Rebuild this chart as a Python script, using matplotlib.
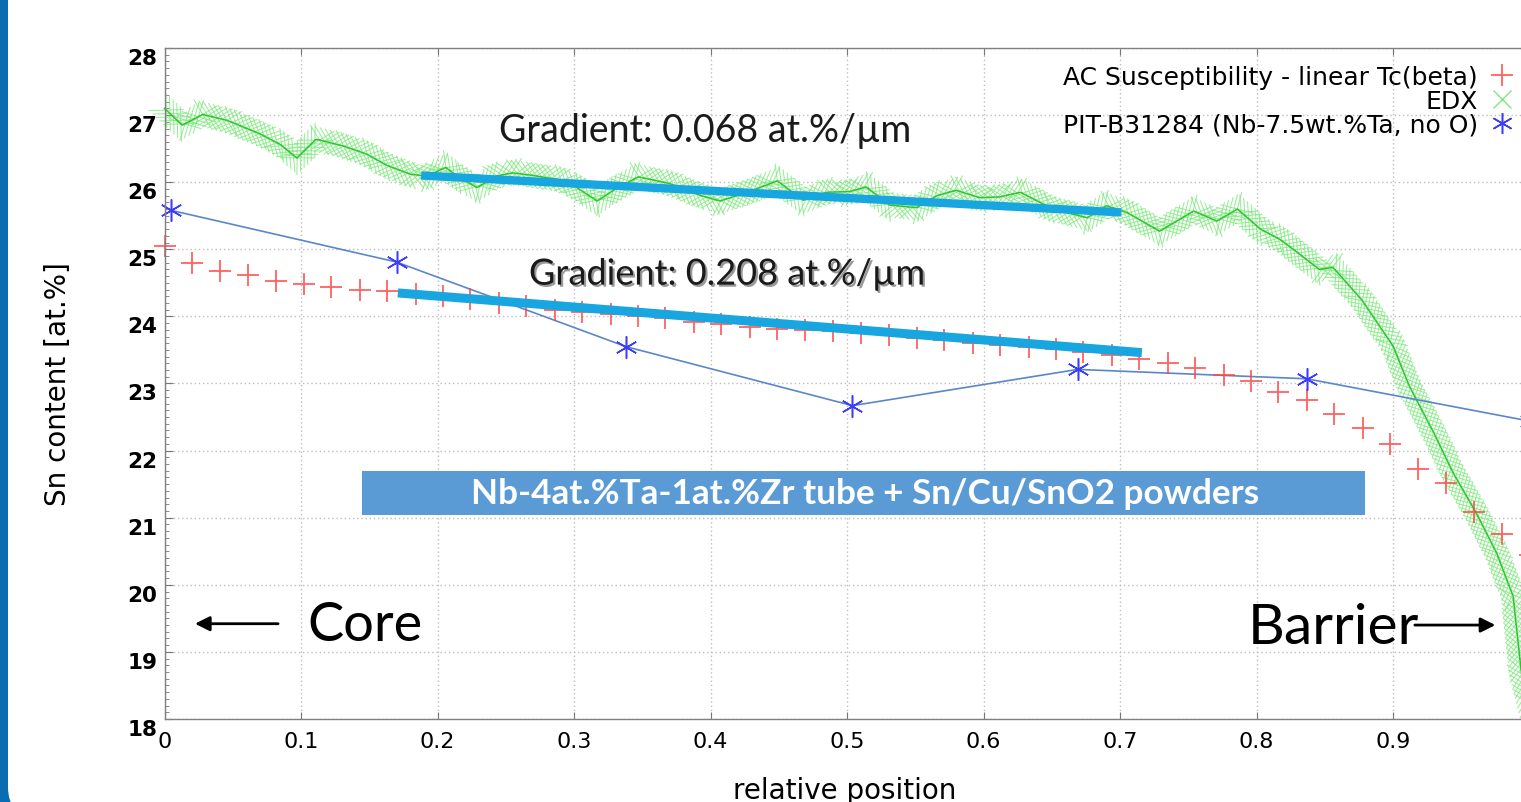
import matplotlib
matplotlib.use('Agg')
import matplotlib.pyplot as plt
import matplotlib.patheffects as pe
from matplotlib.lines import Line2D
from matplotlib.patches import Rectangle, FancyBboxPatch
from matplotlib.transforms import IdentityTransform

# AC susceptibility, linear Tc(beta) -> Sn content (red +)
ac_x = [0.000, 0.020, 0.041, 0.061, 0.082, 0.102, 0.122, 0.143, 0.163, 0.184,
        0.204, 0.224, 0.245, 0.265, 0.286, 0.306, 0.327, 0.347, 0.367, 0.388,
        0.408, 0.429, 0.449, 0.469, 0.490, 0.510, 0.531, 0.551, 0.571, 0.592,
        0.612, 0.633, 0.653, 0.673, 0.694, 0.714, 0.735, 0.755, 0.776, 0.796,
        0.816, 0.837, 0.857, 0.878, 0.898, 0.918, 0.939, 0.959, 0.980, 1.000]
ac_y = [25.05, 24.80, 24.68, 24.61, 24.53, 24.49, 24.44, 24.40, 24.38, 24.34,
        24.30, 24.26, 24.20, 24.15, 24.10, 24.06, 24.03, 24.00, 23.97, 23.92,
        23.88, 23.84, 23.81, 23.80, 23.78, 23.76, 23.72, 23.68, 23.65, 23.61,
        23.58, 23.54, 23.51, 23.47, 23.43, 23.36, 23.31, 23.23, 23.13, 23.04,
        22.87, 22.75, 22.54, 22.34, 22.10, 21.73, 21.51, 21.08, 20.75, 20.45]

# EDX line scan (green)
edx_x = [0.000, 0.013, 0.028, 0.046, 0.070, 0.085, 0.097, 0.111, 0.131, 0.148,
         0.163, 0.180, 0.192, 0.206, 0.216, 0.229, 0.243, 0.255, 0.270, 0.289,
         0.302, 0.317, 0.329, 0.347, 0.370, 0.393, 0.407, 0.427, 0.449, 0.468,
         0.485, 0.502, 0.514, 0.531, 0.551, 0.566, 0.580, 0.597, 0.612, 0.627,
         0.651, 0.676, 0.690, 0.705, 0.729, 0.754, 0.771, 0.786, 0.803, 0.817,
         0.827, 0.846, 0.856, 0.877, 0.900, 0.912, 0.930, 0.944, 0.961, 0.976,
         0.988, 0.994, 1.000]
edx_y = [27.10, 26.85, 27.01, 26.92, 26.72, 26.56, 26.36, 26.64, 26.54, 26.42,
         26.25, 26.12, 26.09, 26.22, 26.07, 25.92, 26.09, 26.14, 26.10, 26.04,
         25.92, 25.72, 25.88, 26.08, 25.98, 25.80, 25.72, 25.85, 26.02, 25.73,
         25.85, 25.86, 25.93, 25.66, 25.62, 25.80, 25.88, 25.77, 25.78, 25.85,
         25.60, 25.47, 25.65, 25.55, 25.27, 25.57, 25.42, 25.60, 25.30, 25.15,
         25.00, 24.70, 24.73, 24.25, 23.56, 22.96, 22.26, 21.67, 21.07, 20.47,
         19.83, 18.70, 18.20]

# PIT-B31284 reference wire (blue *)
pit_x = [0.005, 0.170, 0.338, 0.504, 0.669, 0.837, 1.000]
pit_y = [25.58, 24.81, 23.55, 22.67, 23.21, 23.07, 22.44]

# fitted gradient lines (start, end)
grad_edx_x = [0.188, 0.701]
grad_edx_y = [26.10, 25.55]
grad_ac_x = [0.171, 0.716]
grad_ac_y = [24.35, 23.46]

labels = ['AC Susceptibility - linear Tc(beta)', 'EDX',
          'PIT-B31284 (Nb-7.5wt.%Ta, no O)']
xtick_vals = [0, 0.1, 0.2, 0.3, 0.4, 0.5, 0.6, 0.7, 0.8, 0.9]
xtick_labels = ['0', '0.1', '0.2', '0.3', '0.4', '0.5', '0.6', '0.7', '0.8', '0.9']
ytick_vals = list(range(18, 29))

RED = '#ff4646'
GREEN_MARK = '#7fe87f'
GREEN_LINE = '#2fc42f'
BLUE_LINE = '#5a87c8'
BLUE_MARK = '#3c3cff'
CYAN = '#17a6df'
BOX = '#5b9bd5'
BORDER = '#0a6cb1'

W, H = 1521, 803
fig = plt.figure(figsize=(W / 100, H / 100), dpi=100)

# slide frame: blue strip on the left with a rounded white panel
fig.patches.append(Rectangle((0, 0), 40 / W, 1, transform=fig.transFigure,
                             facecolor=BORDER, edgecolor='none', zorder=-3))
fig.patches.append(FancyBboxPatch((8, -15), W + 50, H + 60,
                                  boxstyle='round,pad=0,rounding_size=30',
                                  transform=None, facecolor='white',
                                  edgecolor='none', zorder=-2))

ax = fig.add_axes([164.5 / W, 83 / H, 1365 / W, 671 / H])
ax.set_facecolor('none')

ax.set_xlim(0, 1)
ax.set_ylim(18, 28)

# EDX: dense x-marks along the scan
ax.plot(edx_x, edx_y, color=GREEN_LINE, lw=1.1, zorder=3, clip_on=False,
        path_effects=[pe.TickedStroke(spacing=3.6, angle=a, length=3.4,
                                      foreground=GREEN_MARK, linewidth=0.75,
                                      alpha=0.8)
                      for a in (45, 135, -45, -135)] + [pe.Normal()])

ax.plot(pit_x, pit_y, color=BLUE_LINE, lw=1.2, zorder=4)
ax.plot(pit_x, pit_y, linestyle='none', marker=(6, 2, 0), ms=16,
        mew=1.1, color=BLUE_MARK, zorder=5, clip_on=False)

ax.plot(ac_x, ac_y, linestyle='none', marker='+', ms=16, mew=1.3,
        color=RED, alpha=0.85, zorder=4, clip_on=False)

ax.plot(grad_edx_x, grad_edx_y, color=CYAN, lw=6, solid_capstyle='butt', zorder=6)
ax.plot(grad_ac_x, grad_ac_y, color=CYAN, lw=6.5, solid_capstyle='butt', zorder=6)

# annotations
ax.text(0.396, 26.78, 'Gradient: 0.068 at.%/\u00b5m', family='Lato', fontsize=27,
        color='#1a1a1a', ha='center', va='center', zorder=7)
ax.text(0.412, 24.63, 'Gradient: 0.208 at.%/\u00b5m', family='Lato', fontsize=26,
        color='#1a1a1a', ha='center', va='center', zorder=7,
        path_effects=[pe.SimplePatchShadow(offset=(1.5, -1.5), shadow_rgbFace='#555555',
                                           alpha=0.6), pe.Normal()])

ax.add_patch(Rectangle((0.1447, 21.04), 0.7348, 0.66, facecolor=BOX,
                       edgecolor='none', zorder=6))
ax.text(0.513, 21.37, 'Nb-4at.%Ta-1at.%Zr tube + Sn/Cu/SnO2 powders', family='Lato',
        fontsize=25.3, fontweight='bold', color='white', ha='center', va='center',
        zorder=7)

ax.text(0.105, 19.18, 'Core', family='Lato', fontsize=39, color='black',
        ha='left', va='baseline', zorder=7)
ax.text(0.7937, 19.13, 'Barrier', family='Lato', fontsize=41, color='black',
        ha='left', va='baseline', zorder=7)
ax.annotate('', xy=(0.0223, 19.42), xytext=(0.0832, 19.42),
            arrowprops=dict(arrowstyle='-|>', color='black', lw=2,
                            mutation_scale=22, shrinkA=0, shrinkB=0), zorder=7)
ax.annotate('', xy=(0.975, 19.40), xytext=(0.916, 19.40),
            arrowprops=dict(arrowstyle='-|>', color='black', lw=2,
                            mutation_scale=22, shrinkA=0, shrinkB=0), zorder=7)

# axes styling
ax.set_xticks(xtick_vals)
ax.set_xticklabels(xtick_labels)
ax.set_yticks(ytick_vals)
ax.set_yticks([v / 10 for v in range(180, 281)], minor=True)
ax.grid(True, which='major', color='#bdbdbd', linestyle=(0, (1, 2)), lw=1)
ax.tick_params(axis='both', which='both', direction='in', colors='#777777')
ax.tick_params(axis='x', which='major', length=5, top=True, labelsize=16,
               labelcolor='black', pad=9)
ax.tick_params(axis='y', which='major', length=6, labelsize=15.5,
               labelcolor='black', pad=5)
ax.tick_params(axis='y', which='minor', length=3)
for lbl in ax.get_yticklabels():
    lbl.set_fontweight('bold')
    lbl.set_verticalalignment('top')
for s in ax.spines.values():
    s.set_color('#808080')
    s.set_linewidth(1)
    s.set_zorder(10)

ax.set_ylabel('Sn content [at.%]', fontsize=20)
ax.yaxis.set_label_coords(-0.0678, 0.5)
ax.set_xlabel('relative position', fontsize=20)
ax.xaxis.set_label_coords(0.4985, -0.085)

handles = [Line2D([], [], linestyle='none', marker='+', ms=16, mew=1.3, color=RED, alpha=0.85),
           Line2D([], [], linestyle='none', marker='x', ms=13, mew=1.0, color=GREEN_MARK),
           Line2D([], [], linestyle='none', marker=(6, 2, 0), ms=15, mew=1.1, color=BLUE_MARK)]
leg = ax.legend(handles, labels, loc='upper right', bbox_to_anchor=(1513, H - 66),
                bbox_transform=IdentityTransform(), frameon=False, markerfirst=False,
                fontsize=18, labelspacing=0.0, handlelength=0.85,
                handletextpad=0.55, borderpad=0, borderaxespad=0)
leg.set_zorder(8)

fig.savefig('out.png', dpi=100)
